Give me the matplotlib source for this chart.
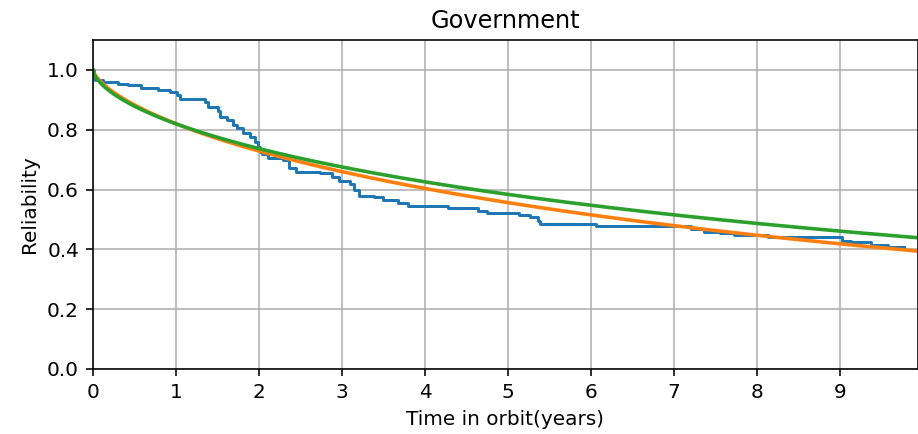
import numpy as np
import matplotlib
matplotlib.use("Agg")
import matplotlib.pyplot as plt

# Kaplan-Meier style empirical reliability (step starts, values)
km_time = [0.0, 0.01, 0.02, 0.12, 0.30, 0.42, 0.58, 0.78, 0.93, 1.01, 1.05, 1.35, 1.38,
           1.51, 1.53, 1.62, 1.69, 1.74, 1.81, 1.89, 1.95, 1.99, 2.01, 2.04, 2.11,
           2.29, 2.36, 2.44, 2.74, 2.88, 2.96, 3.10, 3.14, 3.20, 3.38, 3.50, 3.67,
           3.80, 4.28, 4.64, 4.75, 5.13, 5.27, 5.36, 5.38, 6.06, 7.20, 7.36, 7.56,
           7.72, 8.13, 9.03, 9.13, 9.37, 9.58, 9.77]
km_rel = [1.0, 0.98, 0.967, 0.958, 0.953, 0.948, 0.939, 0.932, 0.925, 0.917, 0.902, 0.894,
          0.877, 0.861, 0.844, 0.833, 0.816, 0.805, 0.789, 0.777, 0.760, 0.743, 0.727,
          0.720, 0.706, 0.699, 0.672, 0.660, 0.655, 0.643, 0.630, 0.619, 0.599, 0.579,
          0.574, 0.565, 0.556, 0.545, 0.537, 0.528, 0.523, 0.515, 0.507, 0.495, 0.484,
          0.479, 0.467, 0.459, 0.454, 0.448, 0.443, 0.429, 0.424, 0.415, 0.409, 0.409]

# Fitted Weibull models (shape, scale in years)
fit1_shape, fit1_scale = 0.673, 11.05
fit2_shape, fit2_scale = 0.619, 13.6

x_ticks = [0, 1, 2, 3, 4, 5, 6, 7, 8, 9]
y_ticks = [0.0, 0.2, 0.4, 0.6, 0.8, 1.0]

DPI = 144
fig = plt.figure(figsize=(918 / DPI, 434 / DPI), dpi=DPI)
ax = fig.add_axes([93 / 918, 1 - 369 / 434, 825 / 918, 329 / 434])

ax.step(km_time, km_rel, where="post", color="C0")
t = np.linspace(0, 10, 600)
ax.plot(t, np.exp(-(t / fit1_scale) ** fit1_shape), color="C1", lw=1.8)
ax.plot(t, np.exp(-(t / fit2_scale) ** fit2_shape), color="C2", lw=1.8)

ax.set_xlim(0, 9.94)
ax.set_ylim(0, 1.1)
ax.set_xticks(x_ticks)
ax.set_yticks(y_ticks)
ax.grid(True)
ax.set_title("Government")
ax.set_xlabel("Time in orbit(years)")
ax.set_ylabel("Reliability")

fig.savefig("out.png", dpi=DPI)
